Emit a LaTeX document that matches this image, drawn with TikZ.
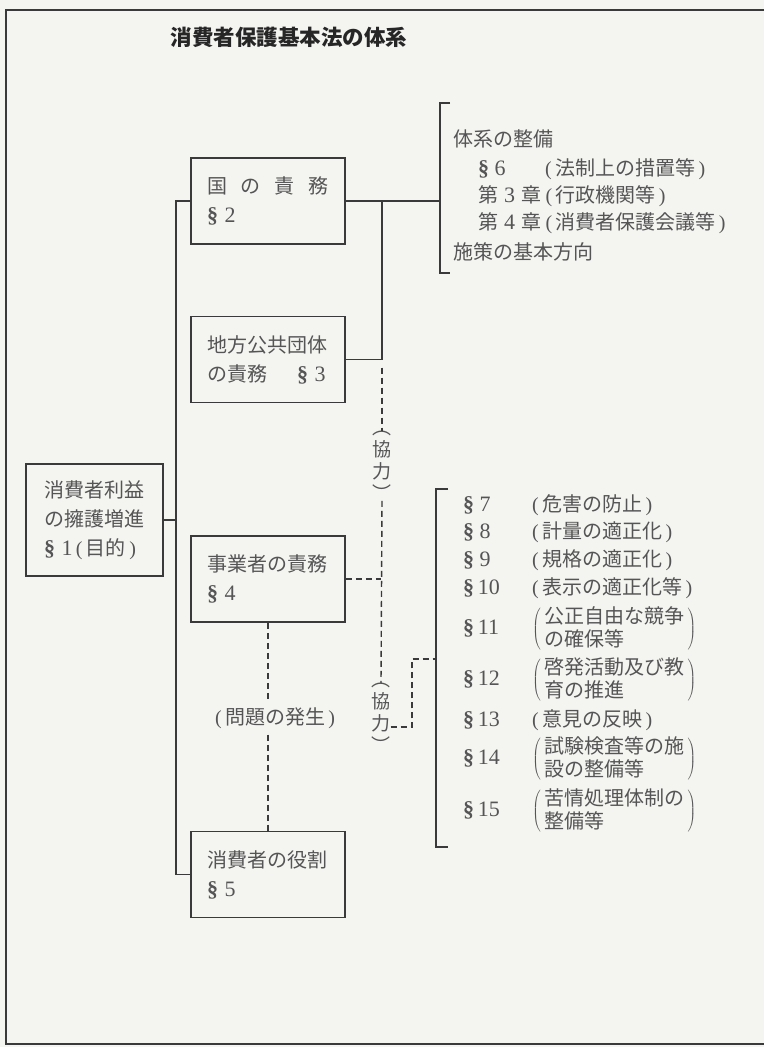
\documentclass[tikz,border=0pt]{standalone}
\usepackage{fontspec}
\setmainfont{Liberation Serif}
\newfontfamily\jpfont{Noto Sans CJK JP}
\usepackage{xcolor}
\definecolor{paper}{HTML}{F4F4F1}
\definecolor{linegray}{HTML}{3A3A3A}
\definecolor{inkgray}{HTML}{555555}
\usepackage{tikz}
\usetikzlibrary{positioning}
\newcommand{\secn}[2][\ ]{{\rmfamily\fontsize{22}{22}\selectfont{\bfseries\S}#1#2}}
\newcommand{\pr}[1]{{\rmfamily(}\,#1\,{\rmfamily)}}
\newcommand{\bpr}[1]{$\left(\begin{tabular}{@{\,}l@{\,}}#1\end{tabular}\right)$}
\begin{document}
\begin{tikzpicture}[x=1pt, y=-1pt, duty/.style={
    	rectangle, draw = linegray, line width = 1.5pt, minimum width = 154pt,
    	minimum height = 86pt, text width = 122pt, align = left, inner sep = 0pt,
    	text = inkgray, font = \jpfont\fontsize{20}{29}\selectfont},
    	entry/.style={anchor = west, inner sep = 0pt, text height = 16pt,
    	text depth = 3pt, text = inkgray, font = \jpfont\fontsize{20}{20}\selectfont},
    	coop/.style={align = center, inner sep = 0pt, text = inkgray,
    	font = \jpfont\fontsize{19}{22}\selectfont},
    	link/.style={draw = linegray, line width = 1.5pt},
    	dashline/.style={draw = linegray, line width = 1.4pt, dash pattern = on 6pt off 4pt}]
    	\useasboundingbox (0,0) rectangle (764,1047);
    	\fill[paper] (0,0) rectangle (764,1047);
    	\draw[link, line width = 1.8pt] (764,10) -- (6,10) -- (6,1044) -- (764,1044);
    	\node (title) [anchor = west, text = black!85, font = \jpfont\bfseries\fontsize{21.5}{21.5}\selectfont] at (167,37) {消費者保護基本法の体系};
    	% boxes
    	\node (purpose) [duty, minimum width = 137pt, minimum height = 112pt, text width = 101pt] at (94.5,520) {消費者利益\\の擁護増進\\\secn{1}\,\pr{目的}};
    	\node (gov) [duty] at (268,201) {国\hspace{0.7em}の\hspace{0.7em}責\hspace{0.7em}務\\\secn{2}};
    	\node (local) [duty, below = 71pt of gov] {地方公共団体\\の責務\hspace{1.5em}\secn{3}};
    	\node (biz) [duty, below = 132pt of local] {事業者の責務\\\secn{4}};
    	\node (cons) [duty, below = 208pt of biz] {消費者の役割\\\secn{5}};
    	% upper list
    	\node (sys) [entry] at (453,140) {体系の整備};
    	\node (s6) [entry, below = 29pt of sys.west, anchor = west, xshift = 25pt] {\secn{6}};
    	\node (s6t) [entry, right = 67pt of s6.west, anchor = west] {\pr{法制上の措置等}};
    	\node (ch3) [entry, below = 27pt of s6.west, anchor = west] {第\hspace{0.3em}{\rmfamily\fontsize{22}{22}\selectfont 3}\hspace{0.3em}章};
    	\node (ch3t) [entry, right = 4pt of ch3.east, anchor = west] {\pr{行政機関等}};
    	\node (ch4) [entry, below = 27pt of ch3.west, anchor = west] {第\hspace{0.3em}{\rmfamily\fontsize{22}{22}\selectfont 4}\hspace{0.3em}章};
    	\node (ch4t) [entry, right = 4pt of ch4.east, anchor = west] {\pr{消費者保護会議等}};
    	\node (dir) [entry, below = 30pt of ch4.west, anchor = west, xshift = -25pt] {施策の基本方向};
    	% lower list
    	\node (s7) [entry] at (463,505) {\secn{7}};
    	\node (p7) [entry, right = 69pt of s7.west, anchor = west] {\pr{危害の防止}};
    	\node (s8) [entry, below = 27pt of s7.west, anchor = west] {\secn{8}};
    	\node (p8) [entry, right = 69pt of s8.west, anchor = west] {\pr{計量の適正化}};
    	\node (s9) [entry, below = 28pt of s8.west, anchor = west] {\secn{9}};
    	\node (p9) [entry, right = 69pt of s9.west, anchor = west] {\pr{規格の適正化}};
    	\node (s10) [entry, below = 28pt of s9.west, anchor = west] {\secn[\,]{10}};
    	\node (p10) [entry, right = 69pt of s10.west, anchor = west] {\pr{表示の適正化等}};
    	\node (s11) [entry, below = 40pt of s10.west, anchor = west] {\secn[\,]{11}};
    	\node (p11) [entry, right = 69pt of s11.west, anchor = west] {\bpr{公正自由な競争\\の確保等}};
    	\node (s12) [entry, below = 51pt of s11.west, anchor = west] {\secn[\,]{12}};
    	\node (p12) [entry, right = 69pt of s12.west, anchor = west] {\bpr{啓発活動及び教\\育の推進}};
    	\node (s13) [entry, below = 41pt of s12.west, anchor = west] {\secn[\,]{13}};
    	\node (p13) [entry, right = 69pt of s13.west, anchor = west] {\pr{意見の反映}};
    	\node (s14) [entry, below = 38pt of s13.west, anchor = west] {\secn[\,]{14}};
    	\node (p14) [entry, right = 69pt of s14.west, anchor = west] {\bpr{試験検査等の施\\設の整備等}};
    	\node (s15) [entry, below = 52pt of s14.west, anchor = west] {\secn[\,]{15}};
    	\node (p15) [entry, right = 69pt of s15.west, anchor = west] {\bpr{苦情処理体制の\\整備等}};
    	% labels on the dashed lines
    	\node (coop1) [coop] at (382,466) {︵\\協\\力\\︶};
    	\node (coop2) [coop] at (381,718) {︵\\協\\力\\︶};
    	\node (issue) [entry, anchor = center, inner ysep = 7pt] at (275,718) {\pr{問題の発生}};
    	\coordinate (trunk) at (176,0);
    	\coordinate (ubt) at (440,103);
    	\coordinate (ubb) at (440,273);
    	\coordinate (lbt) at (436,489);
    	\coordinate (lbb) at (436,847);
    	\coordinate (lbj) at (436,659);
    	% connectors
    	\draw[link] (gov.west) -- (gov.west -| trunk) |- (cons.west);
    	\draw[link] (purpose.east) -- (purpose.east -| trunk);
    	\draw[link] (gov.east) -- (gov.east -| ubt);
    	\draw[link] (local.east) -| (gov.east -| coop1);
    	\draw[link] ([xshift = 10pt]ubt) -- (ubt) -- (ubb) -- ([xshift = 10pt]ubb);
    	\draw[link] ([xshift = 12pt]lbt) -- (lbt) -- (lbb) -- ([xshift = 12pt]lbb);
    	\draw[dashline] (local.east -| coop1) ++(0,8) -- (coop1.north);
    	\draw[dashline] (coop1.south) -- (coop2.north);
    	\draw[dashline] (biz.east) -- (biz.east -| coop2);
    	\draw[dashline] ([yshift = -9pt]coop2.east) -| ([xshift = -24pt]lbj) -- (lbj);
    	\draw[dashline] (biz.south) -- (biz.south |- issue.north);
    	\draw[dashline] (issue.south -| cons.north) -- (cons.north);
\end{tikzpicture}
\end{document}
